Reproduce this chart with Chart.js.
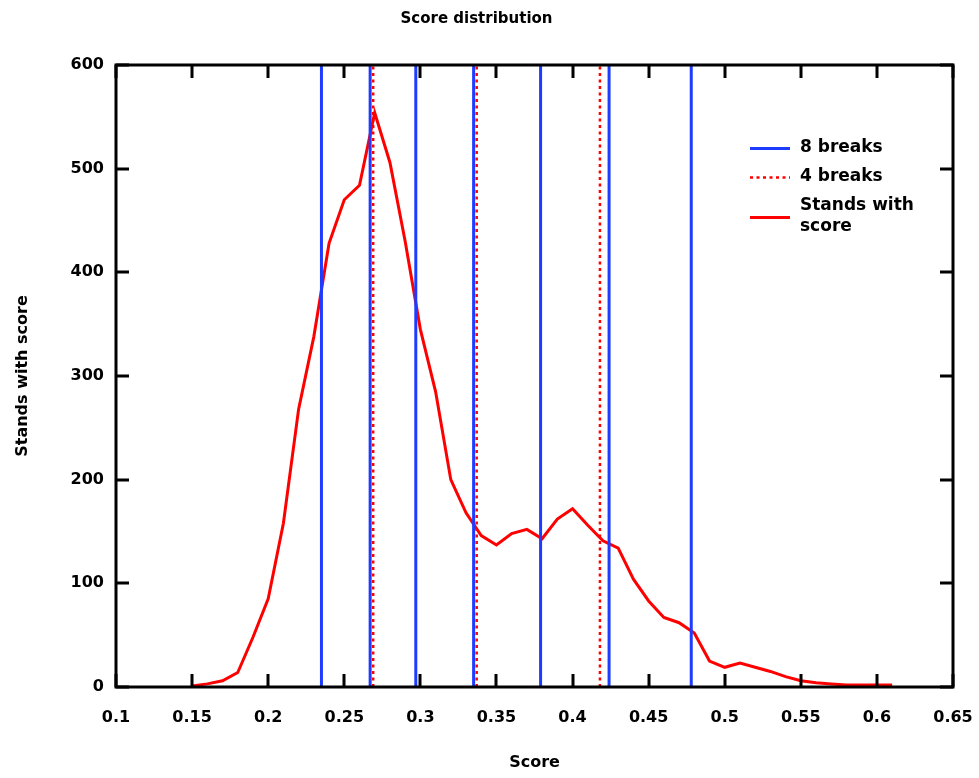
<!DOCTYPE html>
<html>
<head>
<meta charset="utf-8">
<script src="https://cdn.jsdelivr.net/npm/chart.js@4/dist/chart.umd.min.js"></script>
<style>
  html, body { margin: 0; padding: 0; background: #ffffff; }
  #wrap { width: 979px; height: 778px; position: relative; }
</style>
</head>
<body>
<div id="wrap"><canvas id="c"></canvas></div>
<script>
// ---------- data ----------
const titleText = 'Score distribution';
const xTitle = 'Score';
const yTitle = 'Stands with score';

const scores = [0.15, 0.16, 0.17, 0.18, 0.19, 0.20, 0.21, 0.22, 0.23, 0.24,
                0.25, 0.26, 0.27, 0.28, 0.29, 0.30, 0.31, 0.32, 0.33, 0.34,
                0.35, 0.36, 0.37, 0.38, 0.39, 0.40, 0.41, 0.42, 0.43, 0.44,
                0.45, 0.46, 0.47, 0.48, 0.49, 0.50, 0.51, 0.52, 0.53, 0.54,
                0.55, 0.56, 0.57, 0.58, 0.59, 0.60, 0.61];
const standsWithScore = [1, 3, 6, 14, 48, 85, 158, 268, 338, 428,
                         470, 484, 554, 506, 430, 345, 285, 200, 168, 146,
                         137, 148, 152, 143, 162, 172, 156, 141, 134, 104,
                         83, 67, 62, 52, 25, 19, 23, 19, 15, 10,
                         6, 4, 3, 2, 2, 2, 2];

const breaks8 = [0.235, 0.267, 0.297, 0.335, 0.379, 0.424, 0.478];
const breaks4 = [0.269, 0.337, 0.418];

const xTicks = [0.1, 0.15, 0.2, 0.25, 0.3, 0.35, 0.4, 0.45, 0.5, 0.55, 0.6, 0.65];
const yTicks = [0, 100, 200, 300, 400, 500, 600];

const seriesLabels = ['8 breaks', '4 breaks', 'Stands with score'];

// ---------- build datasets ----------
const yMin = yTicks[0], yMax = yTicks[yTicks.length - 1];
function vlines(arr) {
  const out = [];
  arr.forEach(b => { out.push({x: b, y: yMin}, {x: b, y: yMax}, {x: b, y: null}); });
  return out;
}
const curve = scores.map((s, i) => ({x: s, y: standsWithScore[i]}));

const BLUE = '#1e3cff';
const RED = '#ff0000';
const FONT = '"DejaVu Sans", Verdana, sans-serif';

// inward ticks + frame
const framePlugin = {
  id: 'frame',
  afterDatasetsDraw(chart) {
    const {ctx, chartArea: a, scales} = chart;
    ctx.save();
    ctx.strokeStyle = '#000';
    ctx.lineWidth = 3;
    const tl = 13;
    scales.x.ticks.forEach(t => {
      const px = Math.round(scales.x.getPixelForValue(t.value));
      ctx.beginPath();
      ctx.moveTo(px, a.bottom); ctx.lineTo(px, a.bottom - tl);
      ctx.moveTo(px, a.top); ctx.lineTo(px, a.top + tl);
      ctx.stroke();
    });
    scales.y.ticks.forEach(t => {
      const py = Math.round(scales.y.getPixelForValue(t.value));
      ctx.beginPath();
      ctx.moveTo(a.left, py); ctx.lineTo(a.left + tl, py);
      ctx.moveTo(a.right, py); ctx.lineTo(a.right - tl, py);
      ctx.stroke();
    });
    ctx.lineWidth = 3;
    ctx.strokeRect(a.left, a.top, a.right - a.left, a.bottom - a.top);
    ctx.restore();
  }
};

// legend drawn inside the plot area
const legendPlugin = {
  id: 'inLegend',
  afterDraw(chart) {
    const {ctx, chartArea: a} = chart;
    const x0 = a.right - 203, sampleW = 40, textX = x0 + 50;
    let y = a.top + 83;
    const lineH = 21, gap = 8;
    ctx.save();
    ctx.font = 'bold 17px "DejaVu Sans", Verdana, sans-serif';
    ctx.textBaseline = 'middle';
    ctx.fillStyle = '#000';
    [0, 1, 2].forEach(di => {
      const ds = chart.data.datasets[di];
      const words = ds.label.split(' ');
      const lines = [];
      let cur = '';
      words.forEach(w => {
        const test = cur ? cur + ' ' + w : w;
        if (ctx.measureText(test).width > 125 && cur) { lines.push(cur); cur = w; }
        else cur = test;
      });
      lines.push(cur);
      const sampleY = y + (lines.length - 1) * lineH / 2;
      ctx.save();
      ctx.strokeStyle = ds.borderColor;
      ctx.lineWidth = ds.borderWidth;
      ctx.setLineDash(ds.borderDash || []);
      ctx.beginPath();
      ctx.moveTo(x0, Math.round(sampleY) + 0.5);
      ctx.lineTo(x0 + sampleW, Math.round(sampleY) + 0.5);
      ctx.stroke();
      ctx.restore();
      lines.forEach((ln, k) => ctx.fillText(ln, textX, y + k * lineH));
      y += lines.length * lineH + gap;
    });
    ctx.restore();
  }
};

new Chart(document.getElementById('c'), {
  type: 'line',
  data: {
    datasets: [
      { label: seriesLabels[0], data: vlines(breaks8), borderColor: BLUE, borderWidth: 3,
        pointRadius: 0, spanGaps: false, order: 2 },
      { label: seriesLabels[1], data: vlines(breaks4), borderColor: RED, borderWidth: 2.5,
        borderDash: [3, 3.5], pointRadius: 0, spanGaps: false, order: 1 },
      { label: seriesLabels[2], data: curve, borderColor: RED, borderWidth: 3,
        pointRadius: 0, tension: 0, order: 3 }
    ]
  },
  options: {
    responsive: true,
    maintainAspectRatio: false,
    animation: false,
    layout: { padding: { left: 0, right: 26, top: 0, bottom: 0 } },
    plugins: {
      legend: { display: false },
      tooltip: { enabled: false },
      title: {
        display: true, text: titleText, color: '#000',
        font: { family: FONT, size: 15, weight: 'bold' },
        padding: { top: 10, bottom: 37 }
      }
    },
    scales: {
      x: {
        type: 'linear', min: xTicks[0], max: xTicks[xTicks.length - 1],
        afterBuildTicks: s => { s.ticks = xTicks.map(v => ({ value: v })); },
        ticks: {
          color: '#000', padding: 21, maxRotation: 0, autoSkip: false,
          font: { family: FONT, size: 16, weight: 'bold' },
          callback: v => String(v)
        },
        grid: { display: true, drawOnChartArea: false, drawTicks: false },
        border: { display: false },
        title: {
          display: true, text: xTitle, color: '#000',
          font: { family: FONT, size: 16, weight: 'bold' },
          padding: { top: 15, bottom: 6 }
        },
        afterFit: s => { s.height = 91; s.paddingLeft = 0; s.paddingRight = 0; }
      },
      y: {
        type: 'linear', min: yMin, max: yMax,
        afterBuildTicks: s => { s.ticks = yTicks.map(v => ({ value: v })); },
        ticks: {
          color: '#000', padding: 12,
          font: { family: FONT, size: 16, weight: 'bold' }
        },
        grid: { display: true, drawOnChartArea: false, drawTicks: false },
        border: { display: false },
        title: {
          display: true, text: yTitle, color: '#000',
          font: { family: FONT, size: 16, weight: 'bold' },
          padding: { top: 13, bottom: 0 }
        },
        afterFit: s => { s.width = 116; s.paddingTop = 0; s.paddingBottom = 0; }
      }
    }
  },
  plugins: [framePlugin, legendPlugin]
});
</script>
</body>
</html>
